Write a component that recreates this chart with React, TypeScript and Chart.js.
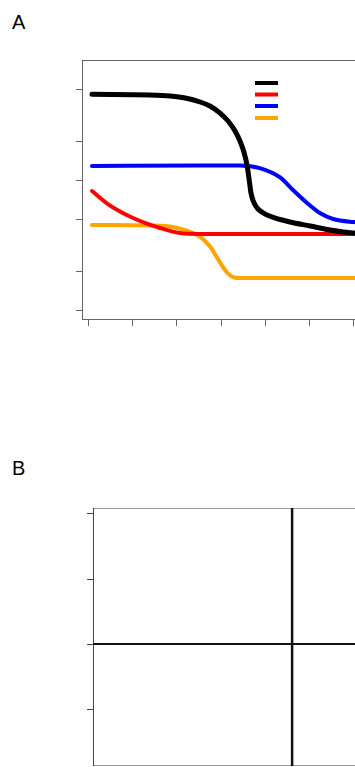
import React, { useEffect, useRef } from "react";
import { Chart, registerables } from "chart.js";

Chart.register(...registerables);

// ---------- Panel A data ----------
const blackX = [0.09, 1.4, 1.86, 2.2, 2.54, 2.76, 2.99, 3.17, 3.33, 3.44, 3.53, 3.6, 3.65, 3.69, 3.76, 3.85, 4.01, 4.23, 4.57, 5.03, 5.48, 6.0, 7.0, 8.0];
const blackY = [16.59, 16.54, 16.46, 16.31, 16.0, 15.69, 15.15, 14.54, 13.77, 13.0, 12.15, 11.15, 10.0, 9.0, 8.23, 7.77, 7.38, 7.08, 6.77, 6.46, 6.15, 5.92, 5.85, 5.85];

const blueX = [0.09, 2.5, 3.44, 3.89, 4.35, 4.64, 4.96, 5.25, 5.55, 6.0, 7.0, 8.0];
const blueY = [11.08, 11.12, 11.12, 10.92, 10.2, 9.23, 8.23, 7.46, 7.0, 6.77, 6.6, 6.55];

const redX = [0.09, 0.45, 1.02, 1.63, 2.08, 2.54, 4.0, 6.0, 8.0];
const redY = [9.15, 8.15, 7.08, 6.31, 5.92, 5.85, 5.85, 5.85, 5.85];

const orangeX = [0.09, 1.4, 1.74, 1.97, 2.2, 2.38, 2.54, 2.67, 2.79, 2.9, 3.01, 3.12, 3.21, 3.31, 3.44, 3.89, 6.0, 8.0];
const orangeY = [6.54, 6.5, 6.46, 6.35, 6.15, 5.92, 5.62, 5.23, 4.77, 4.15, 3.54, 3.0, 2.69, 2.5, 2.46, 2.46, 2.46, 2.46];

const seriesNames = ["black", "red", "blue", "orange"];
const seriesColors = ["#000000", "#ff0000", "#0000ff", "#ffa500"];

const yTicksA = [0, 3, 7, 10, 13, 17];
const xTicksA = [0, 1, 2, 3, 4, 5, 6, 7, 8, 9, 10, 11, 12];

// ---------- Panel B data ----------
const yTicksB = [2, 1, 0, -1];
const hLineB = [0];
const vLineB = [0];

const toPts = (xs: number[], ys: number[]) => xs.map((x, i) => ({ x, y: ys[i] }));

const axesPluginA = {
  id: "axesA",
  beforeDatasetsDraw(chart: any) {
    const { ctx, chartArea, scales } = chart;
    ctx.save();
    ctx.strokeStyle = "#666666";
    ctx.lineWidth = 1;
    ctx.strokeRect(chartArea.left + 0.5, chartArea.top + 0.5, chartArea.right - chartArea.left, chartArea.bottom - chartArea.top);
    ctx.beginPath();
    yTicksA.forEach((t) => {
      const p = Math.round(scales.y.getPixelForValue(t)) + 0.5;
      ctx.moveTo(chartArea.left - 6, p);
      ctx.lineTo(chartArea.left, p);
    });
    xTicksA.forEach((t) => {
      const p = Math.round(scales.x.getPixelForValue(t)) + 0.5;
      ctx.moveTo(p, chartArea.bottom);
      ctx.lineTo(p, chartArea.bottom + 7);
    });
    ctx.stroke();
    ctx.restore();
  },
  afterDatasetsDraw(chart: any) {
    const { ctx } = chart;
    ctx.save();
    ctx.lineWidth = 4;
    ctx.lineCap = "butt";
    const legendYs = [83, 94.5, 106, 118];
    chart.data.datasets.forEach((ds: any, i: number) => {
      ctx.strokeStyle = ds.borderColor;
      ctx.beginPath();
      ctx.moveTo(255, legendYs[i]);
      ctx.lineTo(278, legendYs[i]);
      ctx.stroke();
    });
    ctx.restore();
  },
};

const axesPluginB = {
  id: "axesB",
  beforeDatasetsDraw(chart: any) {
    const { ctx, chartArea, scales } = chart;
    ctx.save();
    ctx.lineWidth = 1;
    ctx.strokeStyle = "#999999";
    ctx.beginPath();
    ctx.moveTo(chartArea.left, chartArea.top + 0.5);
    ctx.lineTo(chartArea.right, chartArea.top + 0.5);
    ctx.moveTo(chartArea.left, chartArea.bottom - 0.5);
    ctx.lineTo(chartArea.right, chartArea.bottom - 0.5);
    ctx.stroke();
    ctx.strokeStyle = "#444444";
    ctx.beginPath();
    ctx.moveTo(chartArea.left + 0.5, chartArea.top);
    ctx.lineTo(chartArea.left + 0.5, chartArea.bottom);
    yTicksB.forEach((t) => {
      const p = Math.round(scales.y.getPixelForValue(t)) + 0.5;
      ctx.moveTo(chartArea.left - 6, p);
      ctx.lineTo(chartArea.left, p);
    });
    ctx.stroke();
    ctx.restore();
  },
};

const xMinA = -0.136;
const xMaxA = 12.95;
const yMinA = -0.69;
const yMaxA = 19.23;

const xMinB = -3.046;
const xMaxB = 4.71;
const yMinB = -1.867;
const yMaxB = 2.082;

export default function App() {
  const refA = useRef<HTMLCanvasElement>(null);
  const refB = useRef<HTMLCanvasElement>(null);

  useEffect(() => {
    const seriesData = [
      toPts(blackX, blackY),
      toPts(redX, redY),
      toPts(blueX, blueY),
      toPts(orangeX, orangeY),
    ];
    const widths = [5, 4, 4, 4];
    const chartA = new Chart(refA.current as HTMLCanvasElement, {
      type: "scatter",
      data: {
        datasets: seriesNames.map((name, i) => ({
          label: name,
          data: seriesData[i],
          showLine: true,
          borderColor: seriesColors[i],
          backgroundColor: seriesColors[i],
          borderWidth: widths[i],
          pointRadius: 0,
          cubicInterpolationMode: "monotone" as const,
          borderCapStyle: "round" as const,
          borderJoinStyle: "round" as const,
        })),
      },
      options: {
        animation: false,
        responsive: false,
        maintainAspectRatio: false,
        layout: { padding: { left: 82, top: 60, right: 0, bottom: 21 } },
        plugins: { legend: { display: false }, tooltip: { enabled: false } },
        scales: {
          x: { type: "linear", display: false, min: xMinA, max: xMaxA },
          y: { type: "linear", display: false, min: yMinA, max: yMaxA },
        },
      },
      plugins: [axesPluginA],
    });

    const chartB = new Chart(refB.current as HTMLCanvasElement, {
      type: "scatter",
      data: {
        datasets: [
          ...hLineB.map((v) => ({
            label: "h",
            data: [{ x: xMinB, y: v }, { x: xMaxB, y: v }],
            showLine: true,
            borderColor: "#111111",
            borderWidth: 2,
            pointRadius: 0,
          })),
          ...vLineB.map((v) => ({
            label: "v",
            data: [{ x: v, y: yMinB }, { x: v, y: yMaxB }],
            showLine: true,
            borderColor: "#111111",
            borderWidth: 2.5,
            pointRadius: 0,
          })),
        ],
      },
      options: {
        animation: false,
        responsive: false,
        maintainAspectRatio: false,
        layout: { padding: { left: 93, top: 68, right: 0, bottom: 14 } },
        plugins: { legend: { display: false }, tooltip: { enabled: false } },
        scales: {
          x: { type: "linear", display: false, min: xMinB, max: xMaxB },
          y: { type: "linear", display: false, min: yMinB, max: yMaxB },
        },
      },
      plugins: [axesPluginB],
    });

    return () => {
      chartA.destroy();
      chartB.destroy();
    };
  }, []);

  const labelStyle: React.CSSProperties = {
    position: "absolute",
    left: 12,
    fontFamily: "'Liberation Sans', Arial, sans-serif",
    fontSize: 20,
    lineHeight: "20px",
    color: "#000",
  };

  return (
    <div
      style={{
        position: "fixed",
        left: 0,
        top: 0,
        width: 355,
        height: 767,
        overflow: "hidden",
        background: "#fff",
      }}
    >
      <div style={{ ...labelStyle, top: 12 }}>A</div>
      <canvas
        ref={refA}
        width={660}
        height={340}
        style={{ position: "absolute", left: 0, top: 0, width: 660, height: 340 }}
      />
      <div style={{ ...labelStyle, top: 458 }}>B</div>
      <canvas
        ref={refB}
        width={600}
        height={340}
        style={{ position: "absolute", left: 0, top: 440, width: 600, height: 340 }}
      />
    </div>
  );
}
